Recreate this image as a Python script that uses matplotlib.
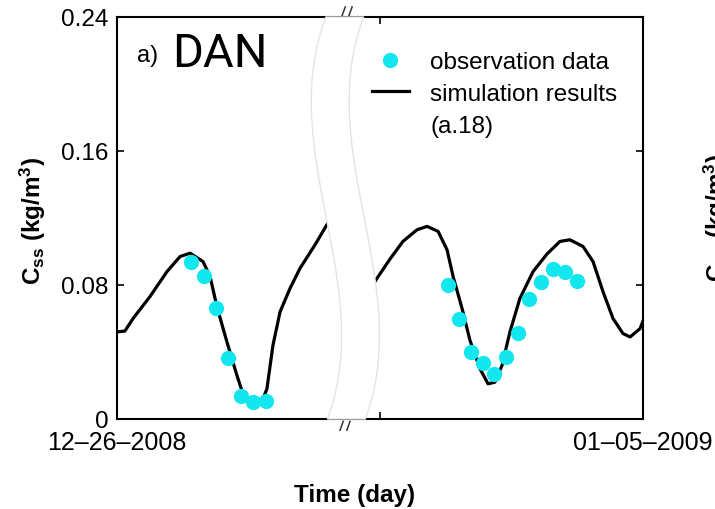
import numpy as np
import matplotlib.pyplot as plt
from matplotlib.lines import Line2D
from matplotlib.patches import Polygon

plt.rcParams['font.family'] = ['Liberation Sans', 'DejaVu Sans']
plt.rcParams['mathtext.fontset'] = 'custom'
plt.rcParams['mathtext.rm'] = 'Liberation Sans:bold'
plt.rcParams['mathtext.default'] = 'rm'

# days since 12-26-2008 (axis is broken between the two segments)
sim_t_left = [0.000, 0.030, 0.061, 0.125, 0.190, 0.240, 0.278, 0.327, 0.354, 0.380, 0.418, 0.456,
              0.479, 0.506, 0.536, 0.555, 0.570, 0.593, 0.620, 0.658, 0.696, 0.753, 0.798, 0.848]
sim_c_left = [0.052, 0.0525, 0.060, 0.073, 0.088, 0.097, 0.099, 0.094, 0.085, 0.067, 0.046, 0.026,
              0.015, 0.011, 0.010, 0.012, 0.018, 0.044, 0.064, 0.078, 0.090, 0.104, 0.116, 0.125]
sim_t_right = [8.947, 8.992, 9.038, 9.087, 9.141, 9.179, 9.221, 9.255, 9.278, 9.312, 9.342, 9.380,
               9.411, 9.437, 9.464, 9.494, 9.532, 9.582, 9.635, 9.684, 9.722, 9.772, 9.810, 9.848,
               9.886, 9.924, 9.951, 9.989, 10.0]
sim_c_right = [0.074, 0.0848, 0.0955, 0.106, 0.113, 0.115, 0.112, 0.101, 0.085, 0.066, 0.047, 0.030,
               0.021, 0.022, 0.032, 0.052, 0.072, 0.088, 0.0985, 0.106, 0.107, 0.103, 0.094, 0.076,
               0.060, 0.051, 0.049, 0.054, 0.0585]

obs_t_left = [0.281, 0.331, 0.376, 0.422, 0.471, 0.517, 0.567]
obs_c_left = [0.0937, 0.0854, 0.0663, 0.0364, 0.0137, 0.0101, 0.0107]
obs_t_right = [9.257, 9.302, 9.346, 9.393, 9.435, 9.479, 9.526, 9.568, 9.613, 9.657, 9.703, 9.748]
obs_c_right = [0.080, 0.060, 0.040, 0.0334, 0.0269, 0.0368, 0.0511, 0.0714, 0.0819, 0.0895, 0.0876, 0.0826]

x_ticks = [0, 9, 10]
x_ticklabels = ['12\u201326\u20132008', '', '01\u201305\u20132009']
y_ticks = [0, 0.08, 0.16, 0.24]
y_ticklabels = ['0', '0.08', '0.16', '0.24']

split = 0.87
gap = 8.0


def fwd(t):
    t = np.asarray(t, dtype=float)
    return np.where(t <= split, t, np.where(t >= split + gap, t - gap, split))


def inv(u):
    u = np.asarray(u, dtype=float)
    return np.where(u <= split, u, u + gap)


obs_color = '#12e6ef'
fs = 17.5

fig = plt.figure(figsize=(7.15, 5.1), dpi=100)
ax = fig.add_axes([117 / 715, 1 - 420 / 510, 526 / 715, 402 / 510])
ax.set_xscale('function', functions=(fwd, inv))

ax.plot(sim_t_left, sim_c_left, color='black', lw=2.3, zorder=2)
ax.plot(sim_t_right, sim_c_right, color='black', lw=2.3, zorder=2)
ax.plot(obs_t_left, obs_c_left, 'o', color=obs_color, ms=11, mec='none', zorder=3)
ax.plot(obs_t_right, obs_c_right, 'o', color=obs_color, ms=11, mec='none', zorder=3)

ax.set_xlim(0, 10)
ax.set_ylim(0, 0.24)
ax.set_xticks(x_ticks)
ax.set_xticklabels(x_ticklabels, fontsize=18)
ax.set_yticks(y_ticks)
ax.set_yticklabels(y_ticklabels, fontsize=fs)
ax.tick_params(direction='in', length=5, width=1.2, top=True, right=True)
ax.tick_params(axis='x', pad=8)
ax.tick_params(axis='y', pad=6)
for s in ax.spines.values():
    s.set_linewidth(1.5)

# axis break band (wavy white strip)
ys = np.linspace(0, 1, 120)
cx = np.polyval(np.polyfit([1.0, 0.796, 0.597, 0.266, 0.0],
                           [0.4316, 0.4106, 0.4145, 0.4639, 0.4354], 3), ys)
hw = 0.036
pts = np.concatenate([np.column_stack([cx - hw, ys]), np.column_stack([cx + hw, ys])[::-1]])
band = Polygon(pts, closed=True, transform=ax.transAxes, facecolor='white',
               edgecolor='#e4e4e4', lw=1.0, zorder=5, clip_on=False)
ax.add_patch(band)

# break marks
for x0 in [0.428, 0.441]:
    ax.plot([x0, x0 + 0.006], [1.004, 1.025], color='#333333', lw=1.1,
            transform=ax.transAxes, clip_on=False, zorder=6)
    ax.plot([x0 - 0.004, x0 + 0.002], [-0.028, -0.006], color='#333333', lw=1.1,
            transform=ax.transAxes, clip_on=False, zorder=6)

handles = [Line2D([], [], marker='o', ls='none', color=obs_color, ms=11, mec='none'),
           Line2D([], [], color='black', lw=2.3),
           Line2D([], [], ls='none')]
labels = ['observation data', 'simulation results', '(a.18)']
ax.legend(handles, labels, loc='upper left', bbox_to_anchor=(0.485, 0.915), frameon=False,
          fontsize=fs, borderpad=0, borderaxespad=0, handlelength=1.5, handletextpad=0.9,
          labelspacing=0.4)

ax.text(0.038, 0.89, 'a)', transform=ax.transAxes, fontsize=17, va='baseline')
ax.text(0.105, 0.878, 'DAN', transform=ax.transAxes, fontsize=34, va='baseline',
        family=['Liberation Sans Narrow', 'Roboto'])

ax.set_xlabel('Time (day)', fontsize=fs, fontweight='bold')
ax.xaxis.set_label_coords(0.452, -0.16)

ylab = 'C$_{ss}$ (kg/m$^{3}$)'
fig.text(18 / 715, 1 - 221 / 510, ylab, rotation=90, ha='left', va='center',
         fontsize=fs, fontweight='bold')
fig.text(702 / 715, 1 - 218 / 510, ylab, rotation=90, ha='left', va='center',
         fontsize=fs, fontweight='bold')

fig.savefig('out.png', dpi=100)
